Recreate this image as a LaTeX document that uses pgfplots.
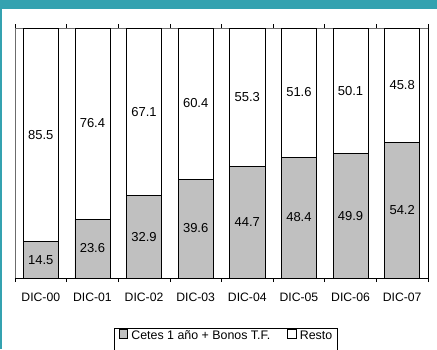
\documentclass[border=0pt]{standalone}
\usepackage{fontspec}
\setmainfont{Liberation Sans}
\usepackage{pgfplots}
\usepackage{pgfplotstable}
\pgfplotsset{compat=1.18}

\definecolor{banda}{RGB}{52,162,176}
\definecolor{gris}{RGB}{192,192,192}

% Composicion de la deuda (porcentaje)
\pgfplotstableread{
x  cetes resto
0  14.5  85.5
1  23.6  76.4
2  32.9  67.1
3  39.6  60.4
4  44.7  55.3
5  48.4  51.6
6  49.9  50.1
7  54.2  45.8
}\deuda

\pgfplotsset{
  marco/.style={
    at={(15pt,71pt)}, anchor=south west,
    scale only axis, width=413pt, height=250pt,
    xmin=-0.5, xmax=7.5, ymin=0, ymax=100,
  }
}

\begin{document}
\begin{tikzpicture}[x=1pt,y=1pt]
\path[use as bounding box] (0,0) rectangle (437,349);
\fill[white] (0,0) rectangle (437,349);
% header band and left rule
\fill[banda] (0,340) rectangle (437,349);
\draw[banda, line width=1.2pt] (1,0) -- (1,340);

\begin{axis}[
  marco,
  ybar stacked, bar width=0.68,
  xtick={0,...,7},
  xticklabels={DIC-00,DIC-01,DIC-02,DIC-03,DIC-04,DIC-05,DIC-06,DIC-07},
  major tick length=0pt,
  minor xtick={-0.5,0.5,...,7.5},
  minor tick length=4pt, tick align=outside,
  minor tick style={black, line width=0.6pt},
  ytick=\empty,
  axis line style={gray!85!black, line width=0.8pt},
  x tick label style={yshift=-11pt, font=\fontsize{12.2}{14}\selectfont},
  legend columns=2,
  legend style={at={(0.511,-0.2)}, anchor=north, draw=black, line width=0.6pt,
    inner xsep=4pt, inner ysep=1pt,
    font=\fontsize{12.4}{14}\selectfont,
    nodes={inner sep=1pt, text height=9pt, text depth=14pt},
    /tikz/every odd column/.append style={column sep=2.5pt},
    /tikz/every even column/.append style={column sep=16pt}},
  legend image code/.code={\draw[#1, line width=0.6pt] (0pt,4pt) rectangle (8.5pt,12.5pt);},
  after end axis/.code={
    \draw[black, line width=0.8pt] (rel axis cs:0,0) -- (rel axis cs:1,0) -- (rel axis cs:1,1);
  },
]
\addplot[fill=gris, draw=black, line width=0.7pt]
  table[x=x, y=cetes] {\deuda};
\addlegendentry{Cetes 1 año + Bonos T.F.}
\addplot[fill=white, draw=black, line width=0.7pt]
  table[x=x, y=resto] {\deuda};
\addlegendentry{Resto}
\end{axis}

% value labels, centred in each segment
\begin{axis}[
  marco, hide axis,
  point meta=explicit,
  /pgf/number format/assume math mode=true,
  nodes near coords={\pgfmathprintnumber[fixed,fixed zerofill,precision=1]{\pgfplotspointmeta}},
  every node near coord/.append style={anchor=center, font=\fontsize{13}{15}\selectfont},
]
\addplot[draw=none, mark=none]
  table[x=x, y expr=\thisrow{cetes}/2, meta=cetes] {\deuda};
\addplot[draw=none, mark=none]
  table[x=x, y expr=\thisrow{cetes}+\thisrow{resto}/2, meta=resto] {\deuda};
\end{axis}
\end{tikzpicture}
\end{document}
